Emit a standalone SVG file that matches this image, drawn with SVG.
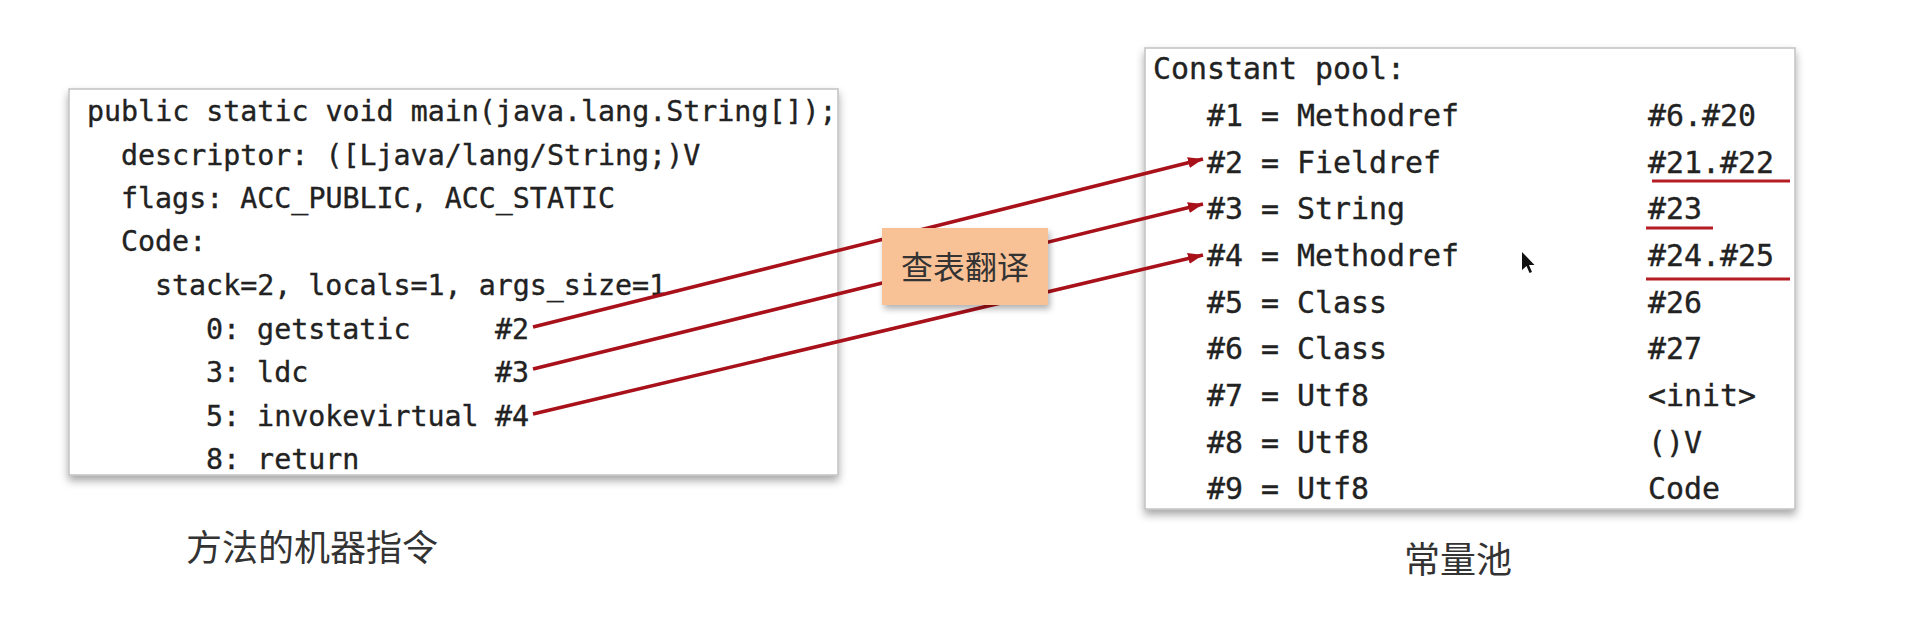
<svg xmlns="http://www.w3.org/2000/svg" width="1910" height="636" viewBox="0 0 1910 636">
  <defs>
    <filter id="shadow" x="-5%" y="-5%" width="110%" height="120%">
      <feDropShadow dx="0" dy="5" stdDeviation="4" flood-color="#000" flood-opacity="0.35"/>
    </filter>
    <filter id="shadow2" x="-10%" y="-10%" width="125%" height="135%">
      <feDropShadow dx="2" dy="4" stdDeviation="3" flood-color="#000" flood-opacity="0.3"/>
    </filter>
    <marker id="arrow" viewBox="0 0 15 11" markerWidth="15" markerHeight="11" refX="15" refY="5.5" orient="auto" markerUnits="userSpaceOnUse">
      <path d="M0,0 L15,5.5 L0,11 z" fill="#a8101a"/>
    </marker>
    <style>
      .box { fill: #ffffff; stroke: #c2c2c2; stroke-width: 1.5; }
      .codeL { font-family: "DejaVu Sans Mono", "Liberation Mono", monospace; font-size: 28.3px; fill: #222222; stroke: #222222; stroke-width: 0.35; }
      .codeR { font-family: "DejaVu Sans Mono", "Liberation Mono", monospace; font-size: 29.9px; fill: #222222; stroke: #222222; stroke-width: 0.35; }
      .caption { font-family: "Noto Sans CJK SC", "Noto Sans", sans-serif; font-size: 36px; fill: #333333; }
      .label { font-family: "Noto Sans CJK SC", "Noto Sans", sans-serif; font-size: 32px; fill: #333333; }
      .conn { stroke: #a8101a; stroke-width: 3.5; fill: none; }
      .uline { stroke: #b51c24; stroke-width: 3; }
    </style>
  </defs>

  <rect width="1910" height="636" fill="#ffffff"/>

  <g id="method-code">
    <rect class="box" x="69" y="89" width="769" height="386" filter="url(#shadow)"/>
    <text class="codeL" x="87" y="121">public static void main(java.lang.String[]);</text>
    <text class="codeL" x="121" y="165">descriptor: ([Ljava/lang/String;)V</text>
    <text class="codeL" x="121" y="208">flags: ACC_PUBLIC, ACC_STATIC</text>
    <text class="codeL" x="121" y="251">Code:</text>
    <text class="codeL" x="155" y="295">stack=2, locals=1, args_size=1</text>
    <text class="codeL" x="206" y="339">0: getstatic</text>
    <text class="codeL" x="495" y="339">#2</text>
    <text class="codeL" x="206" y="382">3: ldc</text>
    <text class="codeL" x="495" y="382">#3</text>
    <text class="codeL" x="206" y="426">5: invokevirtual</text>
    <text class="codeL" x="495" y="426">#4</text>
    <text class="codeL" x="206" y="469">8: return</text>
  </g>

  <g id="constant-pool">
    <rect class="box" x="1145" y="48" width="650" height="461" filter="url(#shadow)"/>
    <text class="codeR" x="1153" y="79">Constant pool:</text>
    <text class="codeR" x="1207" y="126">#1 = Methodref</text>
    <text class="codeR" x="1648" y="126">#6.#20</text>
    <text class="codeR" x="1207" y="173">#2 = Fieldref</text>
    <text class="codeR" x="1648" y="173">#21.#22</text>
    <text class="codeR" x="1207" y="219">#3 = String</text>
    <text class="codeR" x="1648" y="219">#23</text>
    <text class="codeR" x="1207" y="266">#4 = Methodref</text>
    <text class="codeR" x="1648" y="266">#24.#25</text>
    <text class="codeR" x="1207" y="313">#5 = Class</text>
    <text class="codeR" x="1648" y="313">#26</text>
    <text class="codeR" x="1207" y="359">#6 = Class</text>
    <text class="codeR" x="1648" y="359">#27</text>
    <text class="codeR" x="1207" y="406">#7 = Utf8</text>
    <text class="codeR" x="1648" y="406">&lt;init&gt;</text>
    <text class="codeR" x="1207" y="453">#8 = Utf8</text>
    <text class="codeR" x="1648" y="453">()V</text>
    <text class="codeR" x="1207" y="499">#9 = Utf8</text>
    <text class="codeR" x="1648" y="499">Code</text>
    <line class="uline" x1="1652" y1="181" x2="1790" y2="181"/>
    <line class="uline" x1="1646" y1="228" x2="1713" y2="228"/>
    <line class="uline" x1="1646" y1="279" x2="1790" y2="279"/>
  </g>

  <g id="connectors">
    <line class="conn" x1="533" y1="327" x2="1203" y2="159" marker-end="url(#arrow)"/>
    <line class="conn" x1="533" y1="369" x2="1203" y2="204" marker-end="url(#arrow)"/>
    <line class="conn" x1="533" y1="414" x2="1203" y2="255" marker-end="url(#arrow)"/>
  </g>

  <g id="lookup-label">
    <rect x="882" y="228" width="166" height="77" fill="#f9c196" filter="url(#shadow2)"/>
    <text class="label" x="965" y="279" text-anchor="middle">查表翻译</text>
  </g>

  <g id="caption-left">
    <text class="caption" x="312" y="561" text-anchor="middle">方法的机器指令</text>
  </g>
  <g id="caption-right">
    <text class="caption" x="1458" y="573" text-anchor="middle">常量池</text>
  </g>

  <g id="cursor">
    <polygon points="1522,252 1522,270 1526.5,266 1529.5,273 1532,272 1529,265 1534.5,265" fill="#111111"/>
  </g>
</svg>
